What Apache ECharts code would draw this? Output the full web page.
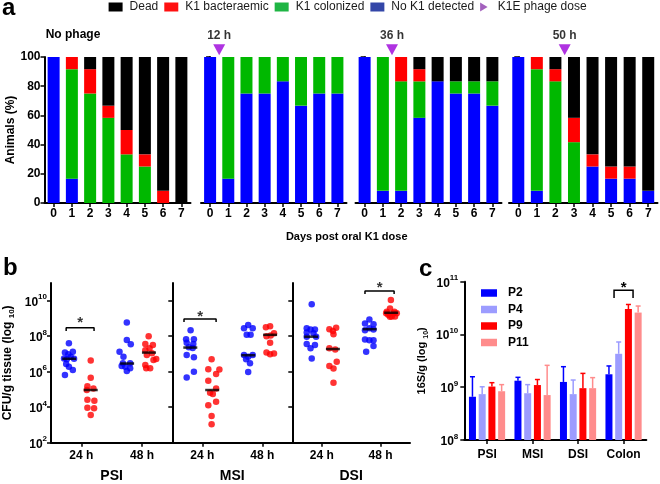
<!DOCTYPE html>
<html><head><meta charset="utf-8">
<script src="https://cdn.jsdelivr.net/npm/echarts@6/dist/echarts.min.js"></script>
<style>html,body{margin:0;padding:0;background:#fff}#c{width:660px;height:484px}</style>
</head><body><div id="c"></div>
<script>
const FONT = "'Liberation Sans', Arial, Helvetica, sans-serif";

// ---------- panel a : animals (%) per day ----------
const days = ['0','1','2','3','4','5','6','7'];
const groupTitle0 = 'No phage';
const noK1 = [
  [100,16.67,0,0,0,0,0,0],
  [100,16.67,75,75,83.33,66.67,75,75],
  [100,8.33,8.33,58.33,83.33,75,75,66.67],
  [100,8.33,0,0,25,16.67,16.67,8.33]
];
const colonized = [
  [0,75,75,58.33,33.33,25,0,0],
  [0,83.33,25,25,16.67,33.33,25,25],
  [0,91.67,75,25,0,8.33,8.33,16.67],
  [0,83.33,83.33,41.67,0,0,0,0]
];
const bacteraemic = [
  [0,8.33,16.67,8.33,16.67,8.33,8.33,0],
  [0,0,0,0,0,0,0,0],
  [0,0,16.67,8.33,0,0,0,0],
  [0,8.33,8.33,16.67,8.33,8.33,8.33,0]
];
const dead = [
  [0,0,8.33,33.33,50,66.67,91.67,100],
  [0,0,0,0,0,0,0,0],
  [0,0,0,8.33,16.67,16.67,16.67,16.67],
  [0,0,8.33,41.67,66.67,75,75,91.67]
];
const doseDay = [0.5, 1.5, 2.5];     // panels 2..4
const doseLabel = ['12 h', '36 h', '50 h'];
const doseMarkY = 105;

// ---------- panel b : CFU/g tissue, [x position, CFU] ----------
const timeLabels = ['24 h', '48 h'];
const regions = ['PSI', 'MSI', 'DSI'];
const psi24Blue = [[0.59,4.0e7],[0.46,1.2e7],[0.72,1.35e7],[0.57,9.8e6],[0.43,5.6e6],[0.65,7.0e6],[0.76,5.4e6],[0.52,5.0e6],[0.50,2.7e6],[0.59,1.9e6],[0.72,1.26e6],[0.46,6.5e5]];
const psi24Red  = [[1.31,4.3e6],[1.31,4.6e5],[1.20,1.5e5],[1.40,1.15e5],[1.18,9.3e4],[1.20,2.6e4],[1.43,2.3e4],[1.20,9.3e3],[1.42,8.7e3],[1.31,3.6e3]];
const psi48Blue = [[2.50,6.0e8],[2.50,6.2e7],[2.63,3.5e7],[2.26,1.35e7],[2.39,7.0e6],[2.37,3.0e6],[2.61,3.0e6],[2.33,2.1e6],[2.45,1.9e6],[2.61,1.55e6],[2.50,1.1e6]];
const psi48Red  = [[3.22,1.0e8],[3.11,3.7e7],[3.36,3.2e7],[3.25,2.1e7],[3.11,1.6e7],[3.33,1.1e7],[3.16,8.7e6],[3.47,5.2e6],[3.38,4.6e6],[3.11,2.4e6],[3.27,1.55e6],[3.14,1.55e6]];
const msi24Blue = [[0.61,2.2e8],[0.46,6.7e7],[0.72,6.7e7],[0.48,4.3e7],[0.70,3.6e7],[0.55,2.4e7],[0.68,2.2e7],[0.48,8.7e6],[0.72,6.5e6],[0.72,1.0e6],[0.48,4.8e5]];
const msi24Red  = [[1.31,5.0e6],[1.20,1.4e6],[1.57,1.35e6],[1.46,7.4e5],[1.20,3.1e5],[1.46,1.15e5],[1.26,6.6e4],[1.35,5.5e4],[1.46,2.0e4],[1.20,1.3e4],[1.31,3.2e3],[1.31,1.1e3]];
const msi48Blue = [[2.53,4.3e8],[2.39,2.8e8],[2.68,2.8e8],[2.48,1.2e8],[2.61,1.2e8],[2.39,8.7e6],[2.68,8.7e6],[2.53,7.0e6],[2.46,5.0e6],[2.59,3.0e6],[2.53,9.6e5]];
const msi48Red  = [[3.26,3.7e8],[3.12,3.2e8],[3.39,1.45e8],[3.14,1.0e8],[3.28,1.1e8],[3.26,4.3e7],[3.14,1.2e7],[3.26,9.7e6],[3.39,1.07e7]];
const dsi24Blue = [[0.66,6.3e9],[0.49,2.8e8],[0.62,2.4e8],[0.77,2.4e8],[0.49,1.6e8],[0.72,1.45e8],[0.49,9.4e7],[0.81,9.4e7],[0.49,3.6e7],[0.77,3.2e7],[0.62,2.1e7],[0.66,5.6e6]];
const dsi24Red  = [[1.49,3.0e8],[1.26,2.5e8],[1.38,2.0e8],[1.40,1.3e8],[1.26,2.1e7],[1.46,1.8e7],[1.51,3.6e6],[1.26,2.1e6],[1.40,1.5e6],[1.40,2.4e5]];
const dsi48Blue = [[2.62,8.9e8],[2.47,5.3e8],[2.76,4.8e8],[2.62,2.8e8],[2.47,2.2e8],[2.76,2.4e8],[2.47,6.6e7],[2.62,6.0e7],[2.76,6.0e7],[2.76,2.8e7],[2.51,1.35e7]];
const dsi48Red  = [[3.35,1.1e10],[3.32,3.7e9],[3.21,2.4e9],[3.47,2.4e9],[3.55,2.0e9],[3.26,1.6e9],[3.38,1.3e9],[3.49,1.3e9],[3.32,1.25e9],[3.44,2.0e9],[3.19,2.0e9]];
const psiMedian = [[0.60,5.4e6],[1.31,9.3e4],[2.51,2.9e6],[3.23,1.2e7]];
const msiMedian = [[0.60,2.3e7],[1.33,9.3e4],[2.53,8.5e6],[3.26,1.2e8]];
const dsiMedian = [[0.64,9.4e7],[1.38,1.9e7],[2.63,2.5e8],[3.36,2.1e9]];
// significance brackets: [x0, x1, top, end, star]
const psiBracket = [0.50, 1.42, 3.0e8, 2.0e8, 9.1e8];
const msiBracket = [0.39, 1.46, 9.3e8, 6.3e8, 2.1e9];
const dsiBracket = [2.47, 3.46, 3.5e10, 2.4e10, 8.7e10];
const logTicksB = [2, 4, 6, 8, 10];

// ---------- panel c : 16S/g ----------
const sites = ['PSI', 'MSI', 'DSI', 'Colon'];
const groupsC = ['P2', 'P4', 'P9', 'P11'];
const p2Mean  = [6.6e8, 1.33e9, 1.26e9, 1.76e9];
const p2Err   = [1.58e9, 1.54e9, 2.45e9, 2.53e9];
const p4Mean  = [7.4e8, 7.7e8, 7.4e8, 4.3e9];
const p4Err   = [1.02e9, 1.12e9, 1.37e9, 7.2e9];
const p9Mean  = [1.03e9, 1.1e9, 9.6e8, 3.03e10];
const p9Err   = [1.22e9, 1.4e9, 1.83e9, 3.7e10];
const p11Mean = [8.4e8, 7.1e8, 9.6e8, 2.6e10];
const p11Err  = [1.12e9, 2.6e9, 1.52e9, 3.46e10];
const colonBracket = [3, 6.9e10, 4.9e10, 9.0e10]; // category, top, end, star

// ---------- styling ----------
const C_BLUE = '#0000ff', C_RED = '#ff0000', C_GREEN = '#00b800', C_BLACK = '#000000';
const C_PURPLE = '#9b00d9';
const cColors = ['#0000ff', '#9c9cff', '#ff0000', '#ff8c8c'];
const axisLineS = {show: true, lineStyle: {color: '#000', width: 2}};
const tickS = {show: true, length: 4, lineStyle: {color: '#000', width: 1.5}};
const lblS = {color: '#000', fontWeight: 'bold', fontSize: 12, fontFamily: FONT};
const supRich = {
  b: {fontSize: 12, fontWeight: 'bold', color: '#000', fontFamily: FONT, lineHeight: 15, verticalAlign: 'bottom'},
  s: {fontSize: 8, fontWeight: 'bold', color: '#000', fontFamily: FONT, lineHeight: 15, verticalAlign: 'top'}
};

const grids = [
  {left: 44.5, top: 57, width: 146, height: 146},
  {left: 201, top: 57, width: 145.5, height: 146},
  {left: 355.5, top: 57, width: 146, height: 146},
  {left: 509, top: 57, width: 148.5, height: 146},
  {left: 51, top: 283, width: 121.3, height: 159.7},
  {left: 172.3, top: 283, width: 120, height: 159.7},
  {left: 292.3, top: 283, width: 117.7, height: 159.7},
  {left: 464.3, top: 281.7, width: 182, height: 158.3}
].map(g => Object.assign(g, {containLabel: false, outerBoundsMode: 'none'}));

const xAxis = [], yAxis = [], series = [];

// panel a axes
for (let k = 0; k < 4; k++) {
  xAxis.push({type: 'category', gridIndex: k, data: days,
    axisLine: axisLineS, axisTick: Object.assign({alignWithLabel: true}, tickS),
    axisLabel: Object.assign({margin: 5}, lblS)});
  yAxis.push({type: 'value', gridIndex: k, min: 0, max: 100, interval: 20,
    axisLine: axisLineS, axisTick: tickS, splitLine: {show: false},
    axisLabel: Object.assign({show: k === 0, margin: 4}, lblS),
    name: k === 0 ? 'Animals (%)' : '', nameLocation: 'middle', nameGap: 27,
    nameTextStyle: {color: '#000', fontWeight: 'bold', fontSize: 12, fontFamily: FONT}});
}
for (let k = 1; k < 4; k++) {
  xAxis.push({type: 'value', gridIndex: k, min: -0.5, max: 7.5, show: false});
}
// panel b axes
for (let r = 0; r < 3; r++) {
  xAxis.push({type: 'value', gridIndex: 4 + r, min: 0, max: 4,
    axisLine: axisLineS, axisTick: Object.assign({customValues: [1, 3]}, tickS),
    splitLine: {show: false},
    axisLabel: Object.assign({customValues: [1, 3], margin: 7,
      formatter: v => timeLabels[Math.round((v - 1) / 2)]}, lblS),
    name: regions[r], nameLocation: 'middle', nameGap: 26,
    nameTextStyle: {color: '#000', fontWeight: 'bold', fontSize: 14, fontFamily: FONT}});
  yAxis.push({type: 'value', gridIndex: 4 + r, min: 2, max: 11,
    axisLine: axisLineS, axisTick: Object.assign({customValues: logTicksB}, tickS),
    splitLine: {show: false},
    axisLabel: {show: r === 0, customValues: logTicksB, margin: 4,
      formatter: v => '{b|10}{s|' + v + '}', rich: supRich},
    name: r === 0 ? '{n|CFU/g tissue (log }{u|10}{n|)}' : '', nameLocation: 'middle', nameGap: 35,
    nameTextStyle: {rich: {
      n: {fontSize: 12, fontWeight: 'bold', color: '#000', fontFamily: FONT, lineHeight: 16, verticalAlign: 'middle'},
      u: {fontSize: 8, fontWeight: 'bold', color: '#000', fontFamily: FONT, lineHeight: 16, verticalAlign: 'bottom'}}}});
}
// panel c axes
xAxis.push({type: 'category', gridIndex: 7, data: sites,
  axisLine: axisLineS, axisTick: Object.assign({alignWithLabel: true}, tickS),
  axisLabel: Object.assign({margin: 9}, lblS)});
yAxis.push({type: 'log', gridIndex: 7, logBase: 10, min: 1e8, max: 1e11,
  axisLine: axisLineS, axisTick: tickS, splitLine: {show: false}, minorTick: {show: false},
  axisLabel: {margin: 6, formatter: v => '{b|10}{s|' + Math.round(Math.log10(v)) + '}', rich: supRich},
  name: '{n|16S/g (log }{u|10}{n|)}', nameLocation: 'middle', nameGap: 35,
  nameTextStyle: {rich: {
    n: {fontSize: 11, fontWeight: 'bold', color: '#000', fontFamily: FONT, lineHeight: 15, verticalAlign: 'middle'},
    u: {fontSize: 7, fontWeight: 'bold', color: '#000', fontFamily: FONT, lineHeight: 15, verticalAlign: 'bottom'}}}});

// panel a series
const stackDefs = [
  ['No K1 detected', noK1, C_BLUE],
  ['K1 colonized', colonized, C_GREEN],
  ['K1 bacteraemic', bacteraemic, C_RED],
  ['Dead', dead, C_BLACK]
];
for (let k = 0; k < 4; k++) {
  stackDefs.forEach(([name, arr, color]) => {
    series.push({type: 'bar', name, xAxisIndex: k, yAxisIndex: k, stack: 'a' + k,
      barWidth: 12, data: arr[k], itemStyle: {color}, silent: true});
  });
}
for (let k = 1; k < 4; k++) {
  series.push({type: 'scatter', name: 'K1E phage dose', xAxisIndex: 3 + k, yAxisIndex: k,
    clip: false, symbol: 'triangle', symbolRotate: 180, symbolSize: [12, 11],
    itemStyle: {color: C_PURPLE},
    label: {show: true, position: 'top', distance: 3, formatter: doseLabel[k - 1],
      color: '#000', fontWeight: 'bold', fontSize: 12, fontFamily: FONT},
    data: [[doseDay[k - 1], doseMarkY]]});
}

// panel b series
const bSets = [
  [psi24Blue, psi24Red, psi48Blue, psi48Red, psiMedian, psiBracket],
  [msi24Blue, msi24Red, msi48Blue, msi48Red, msiMedian, msiBracket],
  [dsi24Blue, dsi24Red, dsi48Blue, dsi48Red, dsiMedian, dsiBracket]
];
const lg = p => [p[0], Math.log10(p[1])];
bSets.forEach((set, r) => {
  const xi = 7 + r, yi = 4 + r;
  [[set[0], C_BLUE], [set[1], C_RED], [set[2], C_BLUE], [set[3], C_RED]].forEach(([pts, color]) => {
    series.push({type: 'scatter', xAxisIndex: xi, yAxisIndex: yi, symbolSize: 6.5,
      itemStyle: {color}, data: pts.map(lg), z: 2});
  });
  series.push({type: 'scatter', xAxisIndex: xi, yAxisIndex: yi, symbol: 'rect',
    symbolSize: [14, 2.5], itemStyle: {color: '#000'}, data: set[4].map(lg), z: 4});
  const br = set[5];
  series.push({type: 'line', xAxisIndex: xi, yAxisIndex: yi, symbol: 'none', clip: false,
    lineStyle: {color: '#000', width: 1.5},
    data: [[br[0], br[3]], [br[0], br[2]], [br[1], br[2]], [br[1], br[3]]].map(lg)});
  series.push({type: 'scatter', xAxisIndex: xi, yAxisIndex: yi, symbolSize: 0, clip: false,
    label: {show: true, position: 'inside', formatter: '*', offset: [0, 4],
      color: '#000', fontWeight: 'bold', fontSize: 15, fontFamily: FONT},
    data: [lg([(br[0] + br[1]) / 2, br[4]])]});
});

// panel c series
const cMeans = [p2Mean, p4Mean, p9Mean, p11Mean];
const cErrs = [p2Err, p4Err, p9Err, p11Err];
const barW = 7, barStep = 9.73;
groupsC.forEach((name, i) => {
  series.push({type: 'bar', name, xAxisIndex: 10, yAxisIndex: 7, barWidth: barW, barGap: '39%',
    data: cMeans[i], itemStyle: {color: cColors[i]}, silent: true});
});
groupsC.forEach((name, i) => {
  const off = (i - 1.5) * barStep, color = cColors[i];
  series.push({type: 'custom', name: name + ' err', xAxisIndex: 10, yAxisIndex: 7, z: 3,
    data: cErrs[i].map((e, j) => [j, e, cMeans[i][j]]),
    encode: {x: 0, y: 1},
    renderItem: (params, api) => {
      const top = api.coord([api.value(0), api.value(1)]);
      const base = api.coord([api.value(0), api.value(2)]);
      const x = top[0] + off;
      return {type: 'group', children: [
        {type: 'line', shape: {x1: x, y1: base[1], x2: x, y2: top[1]}, style: {stroke: color, lineWidth: 1.5}},
        {type: 'line', shape: {x1: x - 2.5, y1: top[1], x2: x + 2.5, y2: top[1]}, style: {stroke: color, lineWidth: 1.5}}
      ]};
    }});
});
series.push({type: 'custom', xAxisIndex: 10, yAxisIndex: 7, z: 3, clip: false,
  data: [colonBracket], encode: {x: 0, y: 1},
  renderItem: (params, api) => {
    const t = api.coord([api.value(0), api.value(1)]);
    const e = api.coord([api.value(0), api.value(2)]);
    const s = api.coord([api.value(0), api.value(3)]);
    const h = 9.5;
    return {type: 'group', children: [
      {type: 'polyline', shape: {points: [[t[0] - h, e[1]], [t[0] - h, t[1]], [t[0] + h, t[1]], [t[0] + h, e[1]]]},
        style: {stroke: '#000', lineWidth: 1.5, fill: null}},
      {type: 'text', x: t[0], y: s[1] + 4, style: {text: '*', textAlign: 'center', textVerticalAlign: 'middle',
        fontSize: 15, fontWeight: 'bold', fontFamily: FONT, fill: '#000'}}
    ]};
  }});

const option = {
  animation: false,
  textStyle: {fontFamily: FONT},
  grid: grids,
  xAxis, yAxis, series,
  legend: [
    {left: 108.6, top: 1, padding: 0, itemWidth: 14, itemHeight: 9, itemGap: 6, selectedMode: false,
      textStyle: {fontSize: 12, color: '#1a1a1a', fontFamily: FONT, padding: [0, 0, 0, 2]},
      data: [
        {name: 'Dead', icon: 'rect', itemStyle: {color: '#000'}},
        {name: 'K1 bacteraemic', icon: 'rect', itemStyle: {color: '#ff1010'}},
        {name: 'K1 colonized', icon: 'rect', itemStyle: {color: '#1fb544'}},
        {name: 'No K1 detected', icon: 'rect', itemStyle: {color: '#3346a8'}},
        {name: 'K1E phage dose', icon: 'path://M0,0L10,6L0,12Z', itemStyle: {color: '#8c3aad'}}
      ]},
    {left: 481, top: 287, padding: 0, orient: 'vertical', itemWidth: 16, itemHeight: 7.5, itemGap: 4.5,
      selectedMode: false, icon: 'rect',
      textStyle: {fontSize: 12, fontWeight: 'bold', color: '#000', fontFamily: FONT, lineHeight: 12, padding: [0, 0, 0, 6]},
      data: groupsC}
  ],
  graphic: [
    {type: 'text', x: 2, y: 8.5, style: {text: 'a', textAlign: 'left', textVerticalAlign: 'middle', fontSize: 24, fontWeight: 'bold', fontFamily: FONT, fill: '#000'}},
    {type: 'text', x: 3, y: 268, style: {text: 'b', textAlign: 'left', textVerticalAlign: 'middle', fontSize: 24, fontWeight: 'bold', fontFamily: FONT, fill: '#000'}},
    {type: 'text', x: 419, y: 269, style: {text: 'c', textAlign: 'left', textVerticalAlign: 'middle', fontSize: 24, fontWeight: 'bold', fontFamily: FONT, fill: '#000'}},
    {type: 'text', x: 73, y: 34.5, style: {text: groupTitle0, textAlign: 'center', textVerticalAlign: 'middle', fontSize: 12, fontWeight: 'bold', fontFamily: FONT, fill: '#000'}},
    {type: 'text', x: 346.7, y: 236.5, style: {text: 'Days post oral K1 dose', textAlign: 'center', textVerticalAlign: 'middle', fontSize: 11, fontWeight: 'bold', fontFamily: FONT, fill: '#000'}}
  ]
};
const chart = echarts.init(document.getElementById('c'), null, {renderer: 'canvas'});
chart.setOption(option);
</script></body></html>
